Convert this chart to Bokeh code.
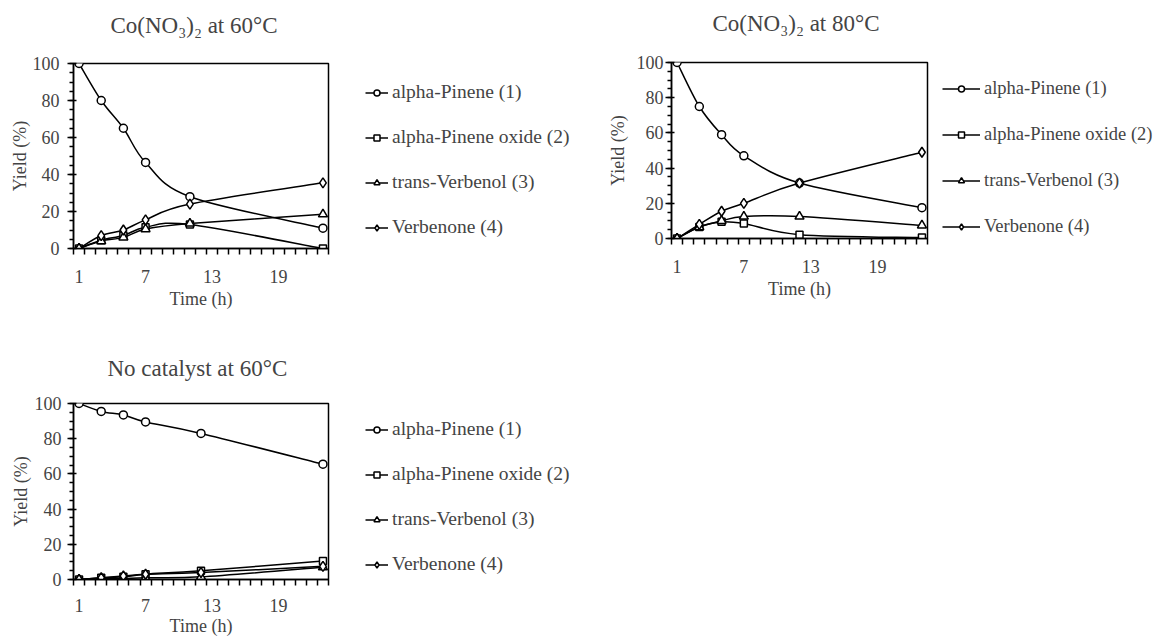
from bokeh.plotting import figure
from bokeh.layouts import column, row
from bokeh.models import (FixedTicker, SingleIntervalTicker, Legend, LegendItem,
                          Title, LinearAxis)
from bokeh.embed import file_html
from bokeh.resources import INLINE

# ---------------- data ----------------
labels = ["alpha-Pinene (1)", "alpha-Pinene oxide (2)", "trans-Verbenol (3)", "Verbenone (4)"]
x_tick_labels = [1, 7, 13, 19]

titles = ["Co(NO\u2083)\u2082 at 60\u00b0C", "Co(NO\u2083)\u2082 at 80\u00b0C", "No catalyst at 60\u00b0C"]

time_60 = [1, 3, 5, 7, 11, 23]
co60_pinene = [100, 80, 65, 46.5, 28, 11]
co60_oxide = [0, 4.5, 7, 11.5, 13, 0]
co60_verbenol = [0, 4, 6, 10.5, 13.5, 18.5]
co60_verbenone = [0, 7, 10, 15.5, 24, 35.5]

time_80 = [1, 3, 5, 7, 12, 23]
co80_pinene = [100, 75, 59, 47, 31.5, 17.5]
co80_oxide = [0, 6.5, 9.5, 8.5, 2.2, 0.5]
co80_verbenol = [0, 6.5, 10, 12.5, 12.5, 7.5]
co80_verbenone = [0, 8, 15.5, 20, 31.5, 49]

time_nc = [1, 3, 5, 7, 12, 23]
nc_pinene = [100, 95.5, 93.5, 89.5, 83, 65.5]
nc_oxide = [0, 1, 1.5, 3, 5, 10.5]
nc_verbenol = [0, 0.5, 0.5, 1, 1.5, 7]
nc_verbenone = [0, 1, 2, 3, 4, 7.5]

FONT = "Liberation Serif"
markers = ["circle", "square", "triangle", "diamond"]
msizes = [8, 7, 9, 10]


def smooth_bezier(t, ys):
    """Bezier pieces of a smoothed line through the data points (Excel-like)."""
    n = len(t)
    out = {k: [] for k in ("x0", "y0", "x1", "y1", "cx0", "cy0", "cx1", "cy1")}
    for i in range(n - 1):
        a, b = max(i - 1, 0), min(i + 2, n - 1)
        out["x0"].append(t[i]); out["y0"].append(ys[i])
        out["x1"].append(t[i + 1]); out["y1"].append(ys[i + 1])
        out["cx0"].append(t[i] + (t[i + 1] - t[a]) / 6.0)
        out["cy0"].append(ys[i] + (ys[i + 1] - ys[a]) / 6.0)
        out["cx1"].append(t[i + 1] - (t[b] - t[i]) / 6.0)
        out["cy1"].append(ys[i + 1] - (ys[b] - ys[i]) / 6.0)
    return out


def add_markers(p, t, ys, mk, ms):
    return p.scatter(t, ys, marker=mk, size=ms, fill_color="white",
                     line_color="black", line_width=1.5)


def make_fig(title, t, series, W, H, bl, bt, fw, fh, title_gap, title_offset,
             ytick_standoff, ylabel_standoff, xtick_standoff, xlabel_standoff):
    p = figure(width=W, height=H, x_range=(0.5, 23.5), y_range=(0, 100),
               output_backend="svg", toolbar_location=None, title=None,
               min_border_left=bl, min_border_top=bt,
               min_border_right=W - bl - fw, min_border_bottom=H - bt - fh)
    # invisible spacer between frame and title (draws nothing visible)
    gap = LinearAxis(ticker=FixedTicker(ticks=[12], minor_ticks=[]),
                     axis_line_color=None, major_tick_line_color=None,
                     major_tick_out=title_gap, major_tick_in=0,
                     minor_tick_out=0, minor_tick_in=0, major_label_standoff=0,
                     major_label_overrides={12: ""},
                     major_label_text_font_size="1px")
    p.add_layout(gap, "above")
    ttl = Title(text=title, text_font=FONT, text_font_size="23px",
                text_font_style="normal", align="left", offset=title_offset,
                standoff=0)
    p.add_layout(ttl, "above")

    p.xgrid.visible = False
    p.ygrid.visible = False
    p.outline_line_color = "black"
    p.outline_line_width = 1.5
    p.outline_line_alpha = 1

    xa = p.below[0]
    xa.ticker = FixedTicker(ticks=x_tick_labels,
                            minor_ticks=[v + 0.5 for v in range(0, 24)])
    xa.major_tick_out = 0
    xa.major_tick_in = 0
    xa.minor_tick_out = 6
    xa.minor_tick_in = 0
    xa.minor_tick_line_width = 1.5
    xa.axis_line_width = 1.5
    xa.major_label_text_font = FONT
    xa.major_label_text_font_size = "18px"
    xa.major_label_standoff = xtick_standoff
    xa.axis_label = "Time (h)"
    xa.axis_label_text_font = FONT
    xa.axis_label_text_font_size = "18px"
    xa.axis_label_text_font_style = "normal"
    xa.axis_label_standoff = xlabel_standoff

    ya = p.left[0]
    ya.ticker = SingleIntervalTicker(interval=20, num_minor_ticks=4)
    ya.major_tick_out = 6
    ya.major_tick_in = 3
    ya.minor_tick_out = 4
    ya.minor_tick_in = 0
    ya.major_tick_line_width = 1.5
    ya.minor_tick_line_width = 1.5
    ya.axis_line_width = 1.5
    ya.major_label_text_font = FONT
    ya.major_label_text_font_size = "18px"
    ya.major_label_standoff = ytick_standoff
    ya.axis_label = "Yield (%)"
    ya.axis_label_text_font = FONT
    ya.axis_label_text_font_size = "18px"
    ya.axis_label_text_font_style = "normal"
    ya.axis_label_standoff = ylabel_standoff

    for ys, mk, ms in zip(series, markers, msizes):
        seg = smooth_bezier(t, ys)
        p.bezier(line_color="black", line_width=1.5, **seg)
        add_markers(p, t, ys, mk, ms)
    return p


def make_legend_fig(t, series, W, H, bt, bb, leg_xy, glyph_w, lab_standoff,
                    leg_spacing, font_size):
    # a figure that only holds the legend; its renderers lie outside its view
    q = figure(width=W, height=H, x_range=(-2, -1), y_range=(0, 1),
               output_backend="svg", toolbar_location=None,
               x_axis_location=None, y_axis_location=None,
               min_border_left=0, min_border_right=0,
               min_border_top=bt, min_border_bottom=bb)
    q.xgrid.visible = False
    q.ygrid.visible = False
    q.outline_line_color = None
    items = []
    for lab, ys, mk, ms in zip(labels, series, markers, msizes):
        lr = q.line(t, ys, line_color="black", line_width=1.5)
        sr = add_markers(q, t, ys, mk, ms)
        items.append(LegendItem(label=lab, renderers=[lr, sr]))
    leg = Legend(items=items, location=leg_xy)
    leg.border_line_alpha = 0
    leg.background_fill_alpha = 0
    leg.padding = 0
    leg.margin = 0
    leg.spacing = leg_spacing
    leg.glyph_height = 15
    leg.glyph_width = glyph_w
    leg.label_height = 22
    leg.label_standoff = lab_standoff
    leg.label_text_font = FONT
    leg.label_text_font_size = font_size
    q.add_layout(leg)
    return q


s60 = [co60_pinene, co60_oxide, co60_verbenol, co60_verbenone]
s80 = [co80_pinene, co80_oxide, co80_verbenol, co80_verbenone]
snc = [nc_pinene, nc_oxide, nc_verbenol, nc_verbenone]

f1 = make_fig(titles[0], time_60, s60,
              W=340, H=322, bl=73, bt=63, fw=255, fh=185, title_gap=26, title_offset=37,
              ytick_standoff=8, ylabel_standoff=0, xtick_standoff=15, xlabel_standoff=3)
L1 = make_legend_fig(time_60, s60, W=258, H=322, bt=63, bb=322 - 63 - 185, leg_xy=(25, 10),
                     glyph_w=23, lab_standoff=4, leg_spacing=23, font_size="19.5px")

f3 = make_fig(titles[2], time_nc, snc,
              W=340, H=316, bl=73, bt=81, fw=255, fh=177, title_gap=23, title_offset=34,
              ytick_standoff=6, ylabel_standoff=1, xtick_standoff=13, xlabel_standoff=1)
L3 = make_legend_fig(time_nc, snc, W=258, H=316, bt=81, bb=316 - 81 - 177, leg_xy=(25, 4),
                     glyph_w=23, lab_standoff=4, leg_spacing=23, font_size="19.5px")

f2 = make_fig(titles[1], time_80, s80,
              W=341, H=322, bl=73, bt=62, fw=256, fh=176, title_gap=27, title_offset=41,
              ytick_standoff=2, ylabel_standoff=6, xtick_standoff=15, xlabel_standoff=3)
L2 = make_legend_fig(time_80, s80, W=223, H=322, bt=62, bb=322 - 62 - 176, leg_xy=(3, 1),
                     glyph_w=38, lab_standoff=4, leg_spacing=24, font_size="18.5px")

layout = row(column(row(f1, L1), row(f3, L3)), row(f2, L2))
open("out.html", "w").write(file_html(layout, INLINE))
